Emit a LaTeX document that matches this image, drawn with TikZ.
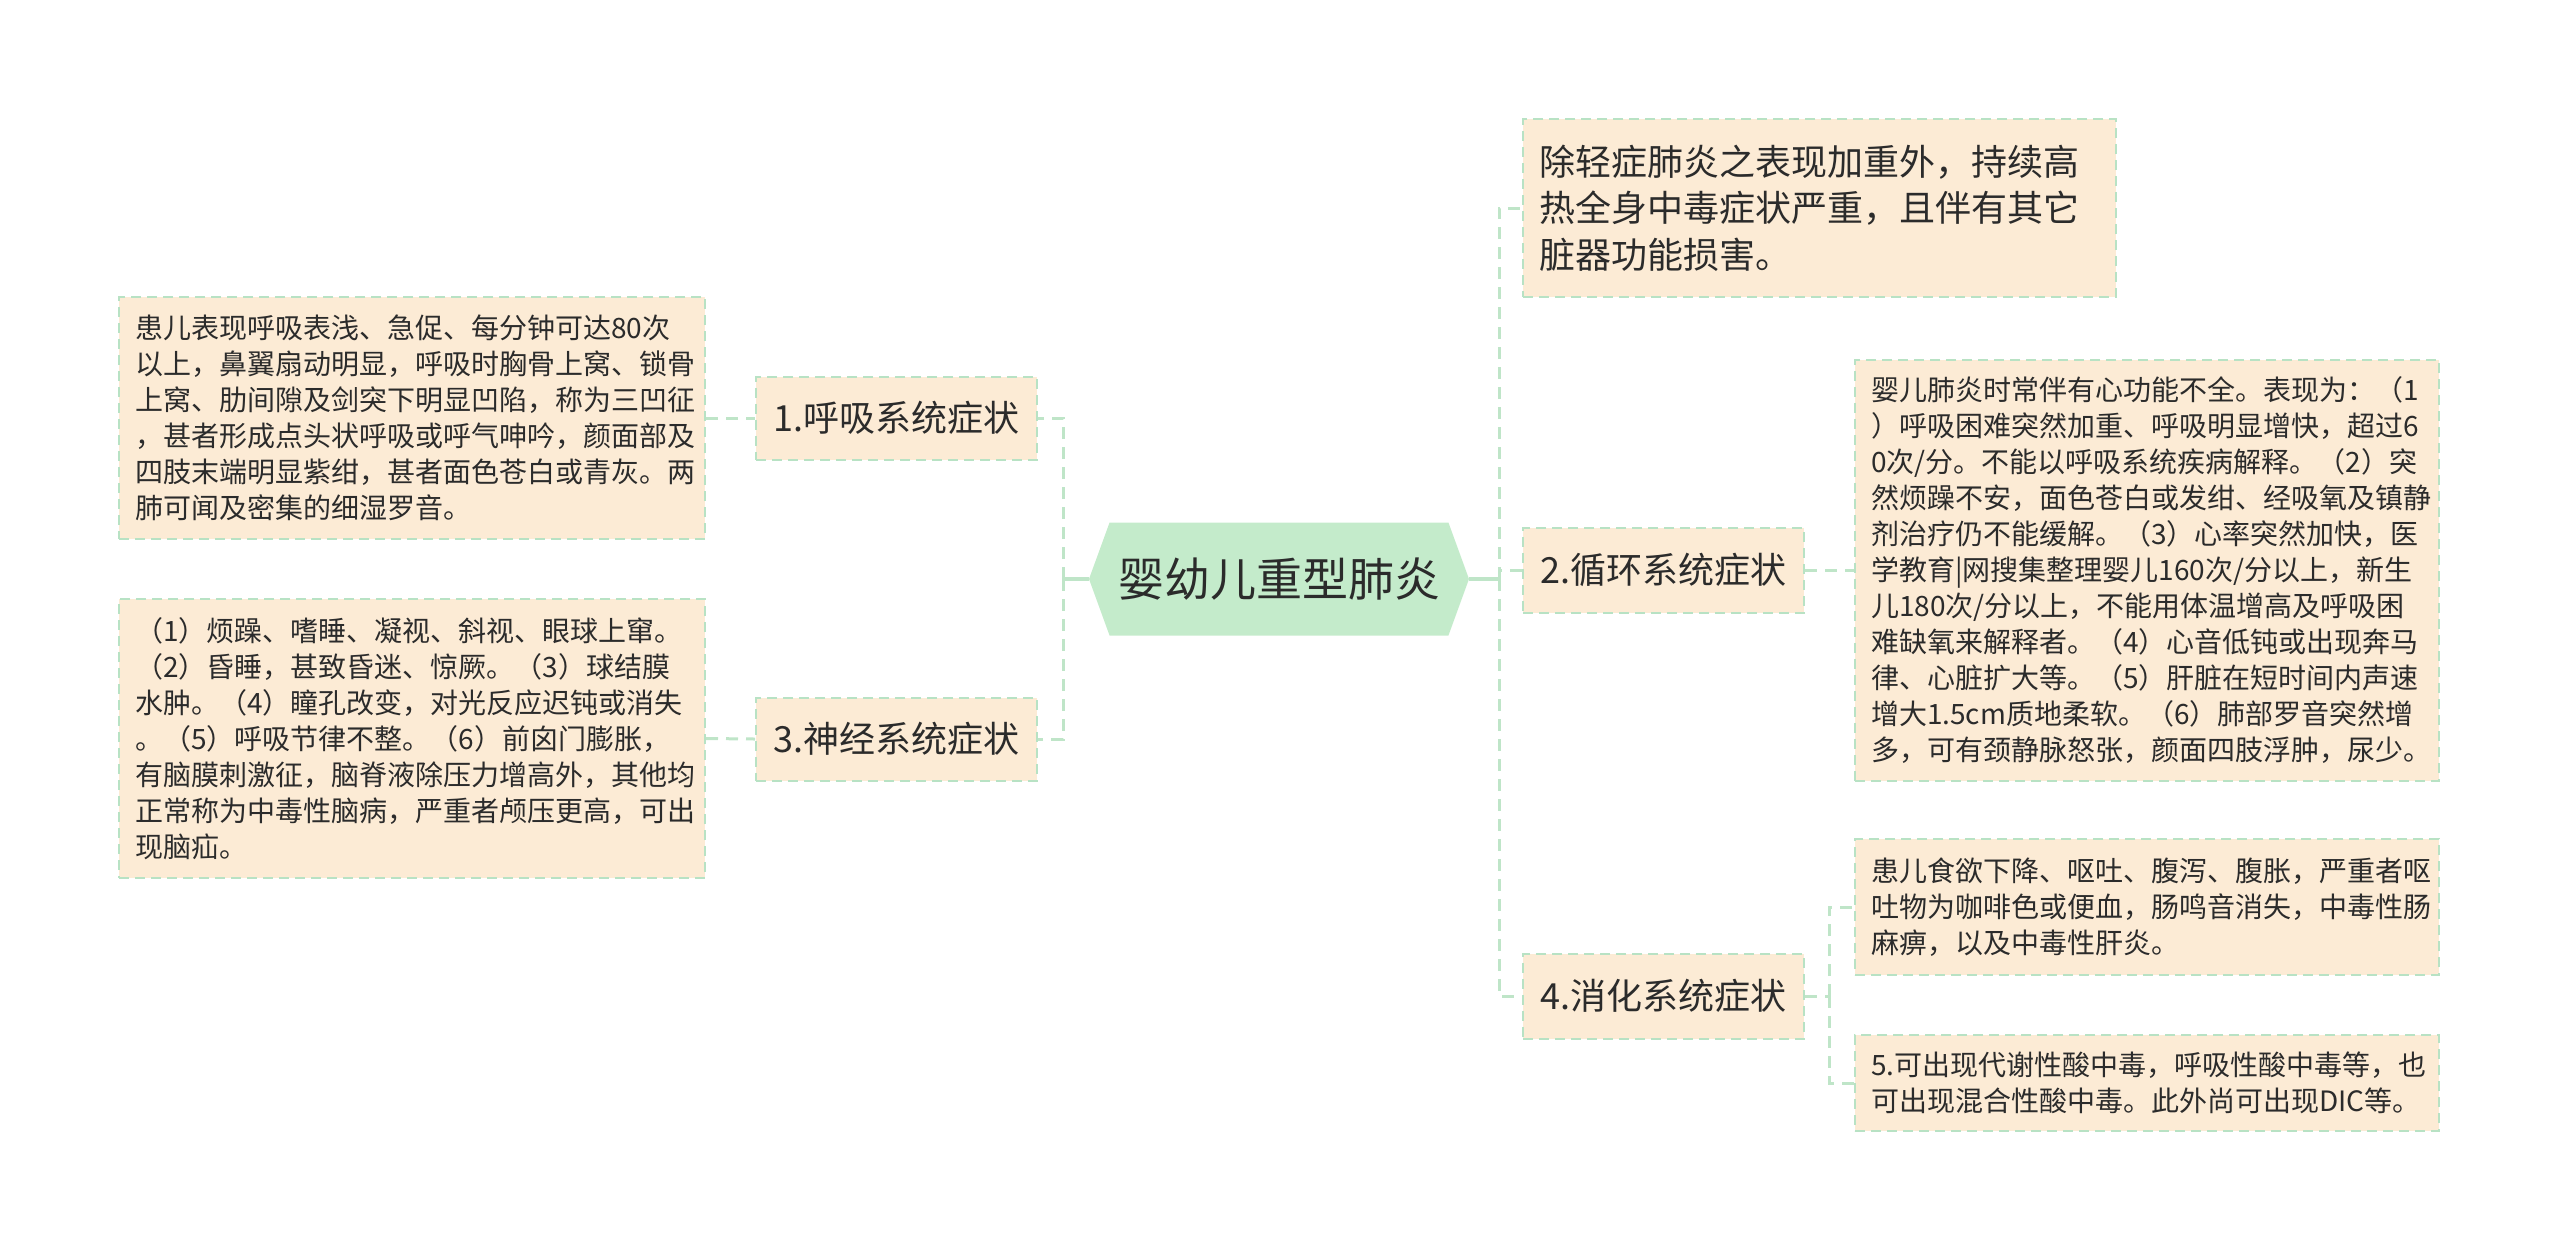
\documentclass[tikz,border=0pt]{standalone}
\usepackage{fontspec}
\setmainfont{Noto Sans CJK SC}
\usetikzlibrary{shapes.symbols}

\definecolor{boxfill}{HTML}{FCEBD5}
\definecolor{boxline}{HTML}{B8E2C4}
\definecolor{rootfill}{HTML}{C4EBCB}
\definecolor{linkline}{HTML}{BFE5C8}
\definecolor{inktext}{HTML}{2B2B2B}

\tikzset{
  card/.style={draw=boxline, fill=boxfill, line width=1pt,
    dash pattern=on 5pt off 3pt, text=inktext, inner xsep=8pt, inner ysep=0pt},
  leaf/.style={card, align=left, font=\fontsize{14pt}{18pt}\selectfont},
  topic/.style={card, align=center, minimum width=140.5pt,
    font=\fontsize{18pt}{23pt}\selectfont},
  link/.style={draw=linkline, line width=1.5pt, dash pattern=on 6pt off 4pt},
  stem/.style={draw=linkline, line width=2pt},
}

\begin{document}
\begin{tikzpicture}[x=0.5pt,y=-0.5pt]
\useasboundingbox (0,0) rectangle (2560,1255);

% root
\node (root) [signal, signal to=west and east, signal pointer angle=140,
  fill=rootfill, text=inktext, minimum width=190pt, minimum height=56.5pt,
  font=\fontsize{23pt}{28pt}\selectfont] at (1279,579) {婴幼儿重型肺炎};

% left side
\node (sym1) [topic, minimum height=41.5pt] at (896.5,418) {1.呼吸系统症状};
\node (sym3) [topic, minimum height=41.5pt] at (896.5,739) {3.神经系统症状};
\node (leafA) [leaf, text width=277pt, minimum height=121pt] at (412,418)
  {患儿表现呼吸表浅、急促、每分钟可达80次\\
   以上，鼻翼扇动明显，呼吸时胸骨上窝、锁骨\\
   上窝、肋间隙及剑突下明显凹陷，称为三凹征\\
   ，甚者形成点头状呼吸或呼气呻吟，颜面部及\\
   四肢末端明显紫绀，甚者面色苍白或青灰。两\\
   肺可闻及密集的细湿罗音。};
\node (leafB) [leaf, text width=277pt, minimum height=139.5pt] at (412,738.5)
  {（1）烦躁、嗜睡、凝视、斜视、眼球上窜。\\
   （2）昏睡，甚致昏迷、惊厥。（3）球结膜\\
   水肿。（4）瞳孔改变，对光反应迟钝或消失\\
   。（5）呼吸节律不整。（6）前囟门膨胀，\\
   有脑膜刺激征，脑脊液除压力增高外，其他均\\
   正常称为中毒性脑病，严重者颅压更高，可出\\
   现脑疝。};

% right side
\node (top0) [leaf, text width=280.5pt, minimum height=89pt,
  font=\fontsize{18pt}{23.25pt}\selectfont] at (1819.5,208)
  {除轻症肺炎之表现加重外，持续高\\
   热全身中毒症状严重，且伴有其它\\
   脏器功能损害。};
\node (sym2) [topic, minimum height=42.5pt] at (1663.5,570) {2.循环系统症状};
\node (sym4) [topic, minimum height=42.5pt] at (1663.5,996) {4.消化系统症状};
\node (leaf2) [leaf, text width=276pt, minimum height=210.5pt] at (2147,570)
  {婴儿肺炎时常伴有心功能不全。表现为：（1\\
   ）呼吸困难突然加重、呼吸明显增快，超过6\\
   0次/分。不能以呼吸系统疾病解释。（2）突\\
   然烦躁不安，面色苍白或发绀、经吸氧及镇静\\
   剂治疗仍不能缓解。（3）心率突然加快，医\\
   学教育|网搜集整理婴儿160次/分以上，新生\\
   儿180次/分以上，不能用体温增高及呼吸困\\
   难缺氧来解释者。（4）心音低钝或出现奔马\\
   律、心脏扩大等。（5）肝脏在短时间内声速\\
   增大1.5cm质地柔软。（6）肺部罗音突然增\\
   多，可有颈静脉怒张，颜面四肢浮肿，尿少。};
\node (leaf4a) [leaf, text width=276pt, minimum height=68pt] at (2147,907)
  {患儿食欲下降、呕吐、腹泻、腹胀，严重者呕\\
   吐物为咖啡色或便血，肠鸣音消失，中毒性肠\\
   麻痹，以及中毒性肝炎。};
\node (leaf4b) [leaf, text width=276pt, minimum height=48pt] at (2147,1083)
  {5.可出现代谢性酸中毒，呼吸性酸中毒等，也\\
   可出现混合性酸中毒。此外尚可出现DIC等。};

% trunks
\coordinate (lt) at (1063,579);
\coordinate (rt) at (1499,579);
\coordinate (dt) at (1829,996);

\draw[stem] (root.west) -- (lt);
\draw[stem] (root.east) -- (rt);
\draw[link] (lt) |- (sym1.east);
\draw[link] (lt) |- (sym3.east);
\draw[link] (leafA.east) -- (sym1.west);
\draw[link] (leafB.east) -- (sym3.west);

\draw[link] (rt) |- (top0.west);
\draw[link] (rt) |- (sym2.west);
\draw[link] (rt) |- (sym4.west);
\draw[link] (sym2.east) -- (leaf2.west);
\draw[link] (sym4.east) -- (dt);
\draw[link] (dt) |- (leaf4a.west);
\draw[link] (dt) |- (leaf4b.west);
\end{tikzpicture}
\end{document}
